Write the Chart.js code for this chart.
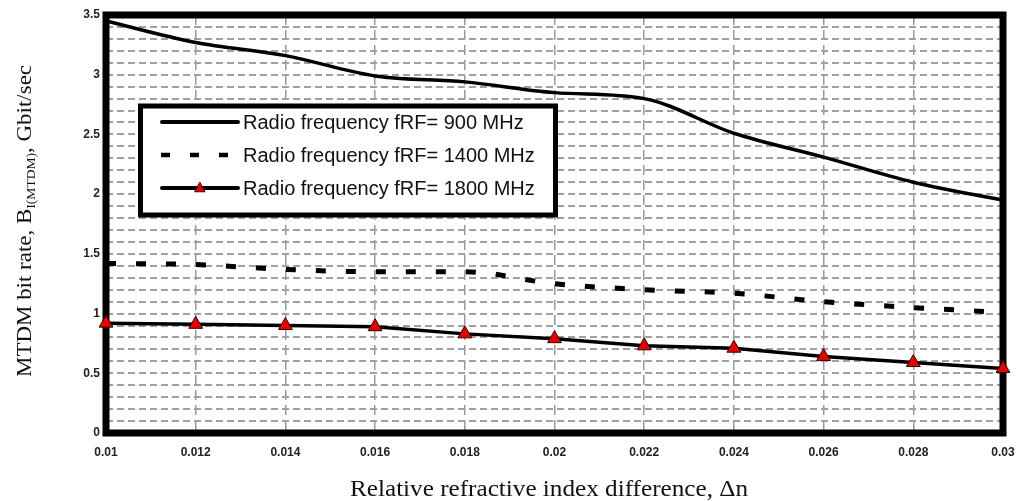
<!DOCTYPE html>
<html>
<head>
<meta charset="utf-8">
<script src="https://cdn.jsdelivr.net/npm/chart.js@4.4.1/dist/chart.umd.min.js"></script>
<style>
  html, body { margin: 0; padding: 0; background: #fff; }
  #wrap { width: 1017px; height: 501px; position: relative; }
</style>
</head>
<body>
<div id="wrap"><canvas id="chart" width="1017" height="501"></canvas></div>
<script>
// Relative refractive index difference (x axis)
const deltaN = [0.010, 0.012, 0.014, 0.016, 0.018, 0.020, 0.022, 0.024, 0.026, 0.028, 0.030];

// MTDM bit rate, Gbit/sec, per radio frequency
const rate900  = [3.45, 3.27, 3.16, 2.99, 2.94, 2.85, 2.80, 2.51, 2.31, 2.10, 1.95];
const rate1400 = [1.42, 1.41, 1.37, 1.35, 1.35, 1.25, 1.20, 1.17, 1.10, 1.05, 1.01];
const rate1800 = [0.92, 0.91, 0.90, 0.89, 0.83, 0.79, 0.73, 0.71, 0.64, 0.59, 0.54];

const seriesLabels = [
  'Radio frequency fRF= 900 MHz',
  'Radio frequency fRF= 1400 MHz',
  'Radio frequency fRF= 1800 MHz'
];

// Axis tick labels
const xTickLabels = ['0.01', '0.012', '0.014', '0.016', '0.018', '0.02', '0.022', '0.024', '0.026', '0.028', '0.03'];
const yTickLabels = ['0', '0.5', '1', '1.5', '2', '2.5', '3', '3.5'];

const pts = (ys) => deltaN.map((x, i) => ({ x, y: ys[i] }));

// Thick frame around the plotting area
const framePlugin = {
  id: 'frame',
  beforeDatasetsDraw(chart) {
    const { ctx, chartArea: a } = chart;
    ctx.save();
    ctx.strokeStyle = '#000';
    ctx.lineWidth = 7;
    ctx.lineJoin = 'miter';
    ctx.strokeRect(a.left, a.top, a.right - a.left, a.bottom - a.top);
    ctx.restore();
  }
};

// Boxed legend placed inside the plot
const boxLegendPlugin = {
  id: 'boxLegend',
  afterDatasetsDraw(chart) {
    const { ctx } = chart;
    const bx = 140.5, by = 106, bw = 415, bh = 109;
    ctx.save();
    ctx.fillStyle = '#fff';
    ctx.fillRect(bx, by, bw, bh);
    ctx.strokeStyle = '#000';
    ctx.lineWidth = 5;
    ctx.strokeRect(bx, by, bw, bh);

    const rows = [122, 155, 188];
    const x0 = 160, x1 = 240;
    chart.data.datasets.forEach((ds, i) => {
      const y = rows[i];
      ctx.strokeStyle = '#000';
      ctx.lineCap = 'round';
      if (i === 1) {
        ctx.lineWidth = 4.5;
        ctx.lineCap = 'butt';
        ctx.setLineDash([9, 20]);
        ctx.beginPath(); ctx.moveTo(x0 + 1, y); ctx.lineTo(x1, y); ctx.stroke();
        ctx.setLineDash([]);
      } else {
        ctx.lineWidth = 4;
        ctx.beginPath(); ctx.moveTo(x0 + 2, y); ctx.lineTo(x1 - 2, y); ctx.stroke();
      }
      if (i === 2) {
        const cx = 200, r = 5;
        ctx.beginPath();
        ctx.moveTo(cx, y - r * 1.1);
        ctx.lineTo(cx + r, y + r * 0.75);
        ctx.lineTo(cx - r, y + r * 0.75);
        ctx.closePath();
        ctx.fillStyle = '#e00000';
        ctx.fill();
        ctx.lineWidth = 1;
        ctx.strokeStyle = '#400';
        ctx.stroke();
      }
      ctx.fillStyle = '#111';
      ctx.font = '20px "Liberation Sans", Arial, sans-serif';
      ctx.textBaseline = 'middle';
      ctx.textAlign = 'left';
      ctx.fillText(ds.label, 243, y + 1);
    });
    ctx.restore();
  }
};

// Axis titles (serif, with subscript on the y title)
const axisTitlePlugin = {
  id: 'axisTitles',
  afterDraw(chart) {
    const { ctx } = chart;
    const serif = '"Liberation Serif", "Times New Roman", serif';
    ctx.save();
    ctx.fillStyle = '#111';
    ctx.textBaseline = 'alphabetic';

    // x title, stretched slightly to its printed width
    ctx.font = '23px ' + serif;
    const xt = 'Relative refractive index difference, \u0394n';
    const xw = ctx.measureText(xt).width;
    ctx.save();
    ctx.translate(549, 496);
    ctx.scale(398 / xw, 1);
    ctx.textAlign = 'center';
    ctx.fillText(xt, 0, 0);
    ctx.restore();

    // y title, rotated
    const main = '22px ' + serif;
    const sub = '13px ' + serif;
    const p1 = 'MTDM bit rate, B', p2 = 'I(MTDM)', p3 = ', Gbit/sec';
    ctx.font = main; const w1 = ctx.measureText(p1).width, w3 = ctx.measureText(p3).width;
    ctx.font = sub; const w2 = ctx.measureText(p2).width;
    const total = w1 + w2 + w3;
    ctx.translate(31, 221);
    ctx.rotate(-Math.PI / 2);
    ctx.scale(312 / total, 1);
    ctx.textAlign = 'left';
    let x = -total / 2;
    ctx.font = main; ctx.fillText(p1, x, 0); x += w1;
    ctx.font = sub; ctx.fillText(p2, x, 4); x += w2;
    ctx.font = main; ctx.fillText(p3, x, 0);
    ctx.restore();
  }
};

const tickFont = { family: '"Liberation Sans", Arial, sans-serif', size: 12, weight: 'bold' };

new Chart(document.getElementById('chart'), {
  type: 'line',
  data: {
    datasets: [
      {
        label: seriesLabels[0],
        data: pts(rate900),
        borderColor: '#000',
        borderWidth: 3.5,
        pointRadius: 0,
        cubicInterpolationMode: 'monotone',
        clip: false
      },
      {
        label: seriesLabels[1],
        data: pts(rate1400),
        borderColor: '#000',
        borderWidth: 5,
        borderDash: [10, 20],
        borderCapStyle: 'butt',
        pointRadius: 0,
        cubicInterpolationMode: 'monotone',
        clip: false
      },
      {
        label: seriesLabels[2],
        data: pts(rate1800),
        borderColor: '#000',
        borderWidth: 3.5,
        tension: 0,
        pointStyle: 'triangle',
        pointRadius: 8,
        pointBackgroundColor: '#e00000',
        pointBorderColor: '#3a0000',
        pointBorderWidth: 1,
        clip: false
      }
    ]
  },
  options: {
    responsive: false,
    animation: false,
    events: [],
    layout: { padding: { top: 15, right: 14, left: 0, bottom: 0 } },
    plugins: {
      legend: { display: false },
      tooltip: { enabled: false }
    },
    scales: {
      x: {
        type: 'linear',
        min: 0.01,
        max: 0.03,
        afterFit(s) { s.height = 68; s.paddingLeft = 0; s.paddingRight = 0; },
        afterBuildTicks(s) { s.ticks = xTickLabels.map(t => ({ value: parseFloat(t) })); },
        ticks: {
          autoSkip: false,
          maxRotation: 0,
          padding: 12,
          color: '#222',
          font: tickFont,
          callback: (v) => xTickLabels.find(t => Math.abs(parseFloat(t) - v) < 1e-9) || ''
        },
        grid: {
          color: '#9a9a9a',
          lineWidth: 1.5,
          drawTicks: false
        },
        border: { display: false, dash: [10, 5] }
      },
      y: {
        type: 'linear',
        min: 0,
        max: 3.5,
        afterFit(s) { s.width = 106; s.paddingTop = 0; s.paddingBottom = 0; },
        afterBuildTicks(s) {
          const t = [];
          for (let k = 0; k <= 35; k++) t.push({ value: k / 10 });
          s.ticks = t;
        },
        ticks: {
          autoSkip: false,
          padding: 6,
          color: '#222',
          font: tickFont,
          callback: (v) => yTickLabels.find(t => Math.abs(parseFloat(t) - v) < 1e-9) || ''
        },
        grid: {
          color: '#a0a0a0',
          lineWidth: 2,
          drawTicks: false
        },
        border: { display: false, dash: [7, 4] }
      }
    }
  },
  plugins: [framePlugin, boxLegendPlugin, axisTitlePlugin]
});
</script>
</body>
</html>
